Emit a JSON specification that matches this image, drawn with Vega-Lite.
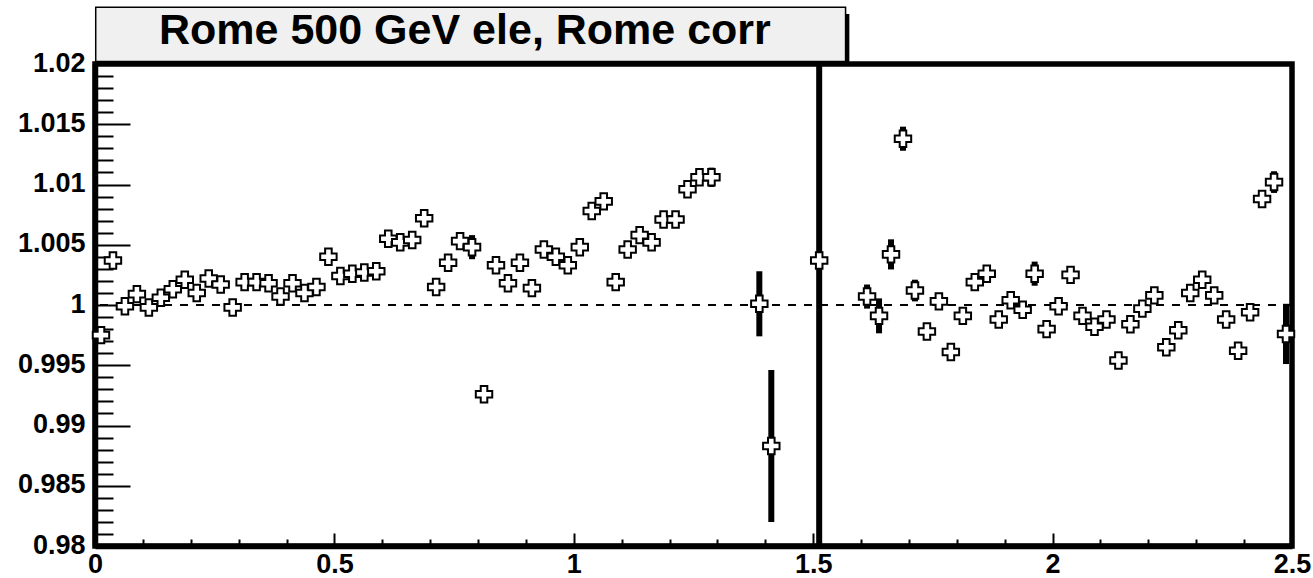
{
  "$schema": "https://vega.github.io/schema/vega-lite/v6.json",
  "width": 1197,
  "height": 482,
  "autosize": {"type": "none"},
  "padding": {"left": 95, "top": 64, "right": 21, "bottom": 32},
  "background": "white",
  "config": {"view": {"stroke": "black", "strokeWidth": 5.5}},
  "data": {"values": [
    {"x":0.0125,"r":0.9975,"lo":0.997,"hi":0.998},
    {"x":0.0375,"r":1.0037,"lo":1.0032,"hi":1.0042},
    {"x":0.0625,"r":0.9999,"lo":0.9994,"hi":1.0004},
    {"x":0.0875,"r":1.0009,"lo":1.0004,"hi":1.0014},
    {"x":0.1125,"r":0.9998,"lo":0.9993,"hi":1.0003},
    {"x":0.1375,"r":1.0006,"lo":1.0001,"hi":1.0011},
    {"x":0.1625,"r":1.0013,"lo":1.0008,"hi":1.0018},
    {"x":0.1875,"r":1.0021,"lo":1.0016,"hi":1.0026},
    {"x":0.2125,"r":1.001,"lo":1.0005,"hi":1.0015},
    {"x":0.2375,"r":1.0022,"lo":1.0017,"hi":1.0027},
    {"x":0.2625,"r":1.0017,"lo":1.0012,"hi":1.0022},
    {"x":0.2875,"r":0.9998,"lo":0.9993,"hi":1.0003},
    {"x":0.3125,"r":1.0019,"lo":1.0014,"hi":1.0024},
    {"x":0.3375,"r":1.0019,"lo":1.0014,"hi":1.0024},
    {"x":0.3625,"r":1.0018,"lo":1.0013,"hi":1.0023},
    {"x":0.3875,"r":1.0007,"lo":1.0002,"hi":1.0012},
    {"x":0.4125,"r":1.0018,"lo":1.0013,"hi":1.0023},
    {"x":0.4375,"r":1.001,"lo":1.0005,"hi":1.0015},
    {"x":0.4625,"r":1.0015,"lo":1.001,"hi":1.002},
    {"x":0.4875,"r":1.004,"lo":1.0035,"hi":1.0045},
    {"x":0.5125,"r":1.0024,"lo":1.0019,"hi":1.0029},
    {"x":0.5375,"r":1.0026,"lo":1.0021,"hi":1.0031},
    {"x":0.5625,"r":1.0027,"lo":1.0022,"hi":1.0032},
    {"x":0.5875,"r":1.0028,"lo":1.0023,"hi":1.0033},
    {"x":0.6125,"r":1.0055,"lo":1.005,"hi":1.006},
    {"x":0.6375,"r":1.0052,"lo":1.0047,"hi":1.0057},
    {"x":0.6625,"r":1.0054,"lo":1.0049,"hi":1.0059},
    {"x":0.6875,"r":1.0072,"lo":1.0067,"hi":1.0077},
    {"x":0.7125,"r":1.0015,"lo":1.001,"hi":1.002},
    {"x":0.7375,"r":1.0035,"lo":1.003,"hi":1.004},
    {"x":0.7625,"r":1.0053,"lo":1.0048,"hi":1.0058},
    {"x":0.7875,"r":1.0048,"lo":1.0038,"hi":1.0058},
    {"x":0.8125,"r":0.9926,"lo":0.9921,"hi":0.9931},
    {"x":0.8375,"r":1.0033,"lo":1.0028,"hi":1.0038},
    {"x":0.8625,"r":1.0018,"lo":1.0013,"hi":1.0023},
    {"x":0.8875,"r":1.0035,"lo":1.003,"hi":1.004},
    {"x":0.9125,"r":1.0014,"lo":1.0009,"hi":1.0019},
    {"x":0.9375,"r":1.0046,"lo":1.0041,"hi":1.0051},
    {"x":0.9625,"r":1.004,"lo":1.0035,"hi":1.0045},
    {"x":0.9875,"r":1.0033,"lo":1.0028,"hi":1.0038},
    {"x":1.0125,"r":1.0048,"lo":1.0043,"hi":1.0053},
    {"x":1.0375,"r":1.0078,"lo":1.0073,"hi":1.0083},
    {"x":1.0625,"r":1.0086,"lo":1.0081,"hi":1.0091},
    {"x":1.0875,"r":1.0019,"lo":1.0014,"hi":1.0024},
    {"x":1.1125,"r":1.0046,"lo":1.0041,"hi":1.0051},
    {"x":1.1375,"r":1.0058,"lo":1.0053,"hi":1.0063},
    {"x":1.1625,"r":1.0052,"lo":1.0047,"hi":1.0057},
    {"x":1.1875,"r":1.0071,"lo":1.0065,"hi":1.0077},
    {"x":1.2125,"r":1.0071,"lo":1.0065,"hi":1.0077},
    {"x":1.2375,"r":1.0096,"lo":1.0091,"hi":1.0101},
    {"x":1.2625,"r":1.0106,"lo":1.0101,"hi":1.0111},
    {"x":1.2875,"r":1.0106,"lo":1.0098,"hi":1.0114},
    {"x":1.3875,"r":1.0001,"lo":0.9974,"hi":1.0028},
    {"x":1.4125,"r":0.9883,"lo":0.982,"hi":0.9946},
    {"x":1.5125,"r":1.0037,"lo":0.95,"hi":1.06},
    {"x":1.6125,"r":1.0007,"lo":0.9997,"hi":1.0017},
    {"x":1.6375,"r":0.9991,"lo":0.99765,"hi":1.00055},
    {"x":1.6625,"r":1.0042,"lo":1.00295,"hi":1.00545},
    {"x":1.6875,"r":1.0138,"lo":1.0128,"hi":1.0148},
    {"x":1.7125,"r":1.0012,"lo":1.0003,"hi":1.0021},
    {"x":1.7375,"r":0.9978,"lo":0.9973,"hi":0.9983},
    {"x":1.7625,"r":1.0003,"lo":0.9996,"hi":1.001},
    {"x":1.7875,"r":0.9961,"lo":0.9956,"hi":0.9966},
    {"x":1.8125,"r":0.9991,"lo":0.9986,"hi":0.9996},
    {"x":1.8375,"r":1.0019,"lo":1.0014,"hi":1.0024},
    {"x":1.8625,"r":1.0026,"lo":1.0021,"hi":1.0031},
    {"x":1.8875,"r":0.9988,"lo":0.9983,"hi":0.9993},
    {"x":1.9125,"r":1.0004,"lo":0.9999,"hi":1.0009},
    {"x":1.9375,"r":0.9996,"lo":0.9991,"hi":1.0001},
    {"x":1.9625,"r":1.0026,"lo":1.0016,"hi":1.0036},
    {"x":1.9875,"r":0.998,"lo":0.9975,"hi":0.9985},
    {"x":2.0125,"r":0.9999,"lo":0.9994,"hi":1.0004},
    {"x":2.0375,"r":1.0025,"lo":1.002,"hi":1.003},
    {"x":2.0625,"r":0.9991,"lo":0.9986,"hi":0.9996},
    {"x":2.0875,"r":0.9982,"lo":0.9977,"hi":0.9987},
    {"x":2.1125,"r":0.9988,"lo":0.9983,"hi":0.9993},
    {"x":2.1375,"r":0.9954,"lo":0.9949,"hi":0.9959},
    {"x":2.1625,"r":0.9984,"lo":0.9979,"hi":0.9989},
    {"x":2.1875,"r":0.9997,"lo":0.9992,"hi":1.0002},
    {"x":2.2125,"r":1.0008,"lo":1.0003,"hi":1.0013},
    {"x":2.2375,"r":0.9965,"lo":0.996,"hi":0.997},
    {"x":2.2625,"r":0.9979,"lo":0.9974,"hi":0.9984},
    {"x":2.2875,"r":1.001,"lo":1.0005,"hi":1.0015},
    {"x":2.3125,"r":1.0021,"lo":1.0016,"hi":1.0026},
    {"x":2.3375,"r":1.0008,"lo":1.0003,"hi":1.0013},
    {"x":2.3625,"r":0.9988,"lo":0.9983,"hi":0.9993},
    {"x":2.3875,"r":0.9962,"lo":0.9957,"hi":0.9967},
    {"x":2.4125,"r":0.9994,"lo":0.9989,"hi":0.9999},
    {"x":2.4375,"r":1.0088,"lo":1.0083,"hi":1.0093},
    {"x":2.4625,"r":1.0102,"lo":1.0093,"hi":1.0111},
    {"x":2.4875,"r":0.9976,"lo":0.9951,"hi":1.0001}
  ]},
  "resolve": {"axis": {"x": "independent", "y": "independent"}},
  "layer": [
    {
      "data": {"values": [{}]},
      "mark": {"type": "rect", "fill": "black", "stroke": null},
      "encoding": {
        "x": {"datum": 0.01, "type": "quantitative", "scale": {"domain": [0, 2.5], "nice": false, "zero": false}, "axis": null},
        "x2": {"datum": 1.5755},
        "y": {"datum": 1.02415, "type": "quantitative", "scale": {"domain": [0.98, 1.02], "nice": false, "zero": false}, "axis": null},
        "y2": {"datum": 1.0201}
      }
    },
    {
      "data": {"values": [{}]},
      "mark": {"type": "rect", "fill": "#f0f0f0", "stroke": "black", "strokeWidth": 1.5},
      "encoding": {
        "x": {"datum": 0.0015, "type": "quantitative", "scale": {"domain": [0, 2.5], "nice": false, "zero": false},
          "axis": {"orient": "bottom", "title": null, "labels": false, "domain": false, "grid": false,
            "values": [0.1,0.2,0.3,0.4,0.6,0.7,0.8,0.9,1.1,1.2,1.3,1.4,1.6,1.7,1.8,1.9,2.1,2.2,2.3,2.4],
            "ticks": true, "tickSize": -7, "tickWidth": 2, "tickColor": "black"}},
        "x2": {"datum": 1.5676},
        "y": {"datum": 1.0247, "type": "quantitative", "scale": {"domain": [0.98, 1.02], "nice": false, "zero": false}, "axis": null},
        "y2": {"datum": 1.0202}
      }
    },
    {
      "data": {"values": [{}]},
      "mark": {"type": "text", "font": "Liberation Sans", "fontWeight": "bold", "fontSize": 43, "align": "center", "baseline": "alphabetic", "color": "black"},
      "encoding": {
        "x": {"datum": 0.7726, "type": "quantitative", "scale": {"domain": [0, 2.5], "nice": false, "zero": false}, "axis": null},
        "y": {"datum": 1.021635, "type": "quantitative", "scale": {"domain": [0.98, 1.02], "nice": false, "zero": false}, "axis": null},
        "text": {"value": "Rome 500 GeV ele, Rome corr"}
      }
    },
    {
      "data": {"values": [{}]},
      "mark": {"type": "rule", "color": "black", "strokeWidth": 1.8, "strokeDash": [8, 8]},
      "encoding": {
        "y": {"datum": 1, "type": "quantitative", "scale": {"domain": [0.98, 1.02], "nice": false, "zero": false},
          "axis": {"orient": "left", "title": null, "labels": false, "domain": false, "grid": false,
            "values": [0.981,0.982,0.983,0.984,0.986,0.987,0.988,0.989,0.991,0.992,0.993,0.994,0.996,0.997,0.998,0.999,1.001,1.002,1.003,1.004,1.006,1.007,1.008,1.009,1.011,1.012,1.013,1.014,1.016,1.017,1.018,1.019],
            "ticks": true, "tickSize": -18, "tickWidth": 2, "tickColor": "black"}}
      }
    },
    {
      "mark": {"type": "rule", "color": "black", "strokeWidth": 6, "clip": true},
      "encoding": {
        "x": {"field": "x", "type": "quantitative", "scale": {"domain": [0, 2.5], "nice": false, "zero": false},
          "axis": {"orient": "bottom", "title": null, "labels": false, "domain": false, "grid": false,
            "values": [0, 0.5, 1, 1.5, 2, 2.5], "ticks": true, "tickSize": -13, "tickWidth": 2, "tickColor": "black"}},
        "y": {"field": "lo", "type": "quantitative", "scale": {"domain": [0.98, 1.02], "nice": false, "zero": false},
          "axis": {"orient": "left", "title": null, "labels": false, "domain": false, "grid": false,
            "values": [0.98, 0.985, 0.99, 0.995, 1, 1.005, 1.01, 1.015, 1.02], "ticks": true, "tickSize": -35, "tickWidth": 2, "tickColor": "black"}},
        "y2": {"field": "hi"}
      }
    },
    {
      "mark": {"type": "point", "shape": "M -0.4 -1 L 0.4 -1 L 0.4 -0.4 L 1 -0.4 L 1 0.4 L 0.4 0.4 L 0.4 1 L -0.4 1 L -0.4 0.4 L -1 0.4 L -1 -0.4 L -0.4 -0.4 Z",
        "filled": true, "fill": "white", "stroke": "black", "strokeWidth": 2, "size": 270, "opacity": 1},
      "encoding": {
        "x": {"field": "x", "type": "quantitative", "scale": {"domain": [0, 2.5], "nice": false, "zero": false},
          "axis": {"orient": "bottom", "title": null, "ticks": false, "domain": true, "domainWidth": 5.5, "domainColor": "black", "grid": false,
            "values": [0, 0.5, 1, 1.5, 2, 2.5], "format": "~g", "labelFont": "Liberation Sans", "labelFontSize": 27,
            "labelFontWeight": "bold", "labelColor": "black", "labelPadding": 5, "labelFlush": false, "labelOverlap": false}},
        "y": {"field": "r", "type": "quantitative", "scale": {"domain": [0.98, 1.02], "nice": false, "zero": false},
          "axis": {"orient": "left", "title": null, "ticks": false, "domain": true, "domainWidth": 5.5, "domainColor": "black", "grid": false,
            "values": [0.98, 0.985, 0.99, 0.995, 1, 1.005, 1.01, 1.015, 1.02], "format": "~g", "labelFont": "Liberation Sans", "labelFontSize": 27,
            "labelFontWeight": "bold", "labelColor": "black", "labelPadding": 10, "labelOffset": -1, "labelFlush": false, "labelOverlap": false}}
      }
    }
  ]
}
